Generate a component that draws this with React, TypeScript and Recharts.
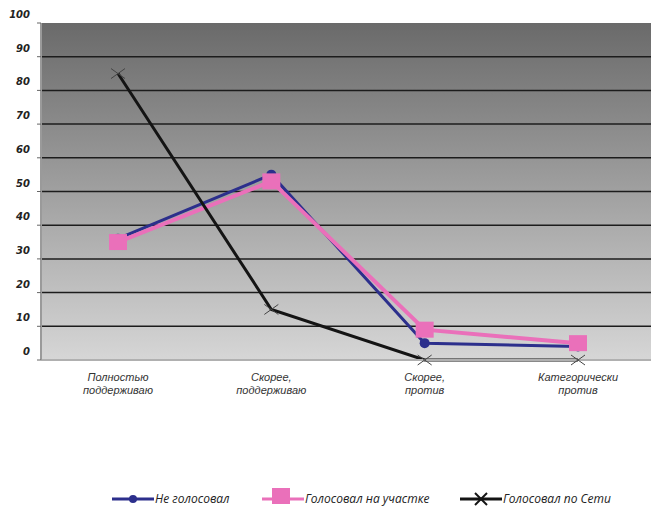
import React from "react";
import { LineChart, Line, XAxis, YAxis, CartesianGrid } from "recharts";

// answer options (two lines each)
const categories = [
  "Полностью\nподдерживаю",
  "Скорее,\nподдерживаю",
  "Скорее,\nпротив",
  "Категорически\nпротив",
];

// shares, %
const notVoted = [36, 55, 5, 4];
const votedAtStation = [35, 53, 9, 5];
const votedOnline = [85, 15, 0, 0];

const yTicks = [0, 10, 20, 30, 40, 50, 60, 70, 80, 90, 100];
const gridValues = [10, 20, 30, 40, 50, 60, 70, 80, 90];

const data = categories.map((c, i) => ({
  name: c,
  notVoted: notVoted[i],
  votedAtStation: votedAtStation[i],
  votedOnline: votedOnline[i],
}));

const BLUE = "#2c2f8c";
const PINK = "#ea70ba";
const BLACK = "#141414";

const YTick = (props: any) => {
  const { x, y, payload } = props;
  return (
    <text
      x={x - 5}
      y={y - 5}
      textAnchor="end"
      fontFamily="DejaVu Sans"
      fontStyle="italic"
      fontWeight="bold"
      fontSize={10}
      fill="#222"
    >
      {payload.value}
    </text>
  );
};

// each line of a category label is its own text element
const XTick = (props: any) => {
  const { x, y, payload } = props;
  const lines = String(payload.value).split("\n");
  return (
    <g>
      {lines.map((l, i) => (
        <text
          key={i}
          x={x}
          y={y + 13 + i * 13}
          textAnchor="middle"
          fontFamily="Liberation Sans"
          fontStyle="italic"
          fontSize={11}
          fill="#333"
        >
          {l}
        </text>
      ))}
    </g>
  );
};

const CircleDot = (props: any) => {
  const { cx, cy } = props;
  return <circle cx={cx} cy={cy} r={5} fill={BLUE} />;
};

const SquareDot = (props: any) => {
  const { cx, cy } = props;
  return <rect x={cx - 9} y={cy - 8} width={18} height={16} fill={PINK} />;
};

const CrossDot = (props: any) => {
  const { cx, cy } = props;
  return (
    <g stroke="#444" strokeWidth={1}>
      <line x1={cx - 7} y1={cy - 5} x2={cx + 7} y2={cy + 5} />
      <line x1={cx - 7} y1={cy + 5} x2={cx + 7} y2={cy - 5} />
    </g>
  );
};

const LegendItem = ({ left, color, marker, label }: any) => (
  <div style={{ position: "absolute", left, top: 488, height: 18, display: "flex", alignItems: "center" }}>
    <svg width={42} height={18}>
      <line x1={0} y1={11} x2={42} y2={11} stroke={color} strokeWidth={3} />
      {marker === "circle" && <circle cx={21} cy={11} r={4} fill={color} />}
      {marker === "square" && <rect x={10} y={0} width={18} height={16} fill={color} />}
      {marker === "cross" && (
        <g stroke={color} strokeWidth={2}>
          <line x1={15} y1={5} x2={27} y2={17} />
          <line x1={15} y1={17} x2={27} y2={5} />
        </g>
      )}
    </svg>
    <span
      style={{
        fontFamily: "Open Sans",
        fontStyle: "italic",
        fontSize: 12,
        lineHeight: "16px",
        color: "#222",
        marginLeft: 1,
        marginTop: 3,
      }}
    >
      {label}
    </span>
  </div>
);

export default function App() {
  return (
    <div style={{ position: "relative", width: 655, height: 508, background: "#fff" }}>
      <style>{"body{margin:0}"}</style>
      <LineChart
        width={655}
        height={508}
        data={data}
        margin={{ top: 23, right: 4, left: 0, bottom: 108 }}
      >
        <defs>
          <linearGradient id="plotBg" x1="0" y1="0" x2="0" y2="1">
            <stop offset="0%" stopColor="#6a6a6a" />
            <stop offset="100%" stopColor="#d6d6d6" />
          </linearGradient>
        </defs>
        <CartesianGrid
          vertical={false}
          horizontalValues={gridValues}
          stroke="#1c1c1c"
          strokeWidth={1.5}
          fill="url(#plotBg)"
          fillOpacity={1}
        />
        <XAxis
          dataKey="name"
          height={40}
          interval={0}
          padding={{ left: 77, right: 73 }}
          axisLine={{ stroke: "#b0b0b0", strokeWidth: 2 }}
          tickLine={false}
          tick={<XTick />}
        />
        <YAxis
          width={41}
          domain={[0, 100]}
          ticks={yTicks}
          interval={0}
          axisLine={{ stroke: "#9a9a9a", strokeWidth: 2 }}
          tickLine={{ stroke: "#666" }}
          tickSize={4}
          tick={<YTick />}
        />
        <Line
          dataKey="notVoted"
          stroke={BLUE}
          strokeWidth={3}
          dot={<CircleDot />}
          activeDot={false}
          isAnimationActive={false}
        />
        <Line
          dataKey="votedAtStation"
          stroke={PINK}
          strokeWidth={4}
          dot={<SquareDot />}
          activeDot={false}
          isAnimationActive={false}
        />
        <Line
          dataKey="votedOnline"
          stroke={BLACK}
          strokeWidth={3}
          dot={<CrossDot />}
          activeDot={false}
          isAnimationActive={false}
        />
      </LineChart>
      <LegendItem left={112} color={BLUE} marker="circle" label="Не голосовал" />
      <LegendItem left={262} color={PINK} marker="square" label="Голосовал на участке" />
      <LegendItem left={460} color={BLACK} marker="cross" label="Голосовал по Сети" />
    </div>
  );
}
